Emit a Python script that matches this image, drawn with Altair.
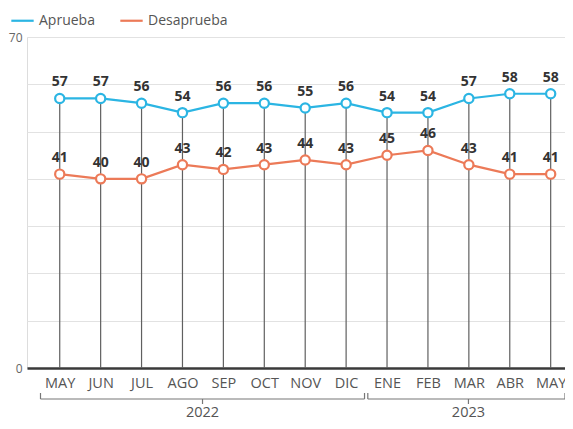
import altair as alt
import pandas as pd

months = ["MAY", "JUN", "JUL", "AGO", "SEP", "OCT", "NOV", "DIC",
          "ENE", "FEB", "MAR", "ABR", "MAY"]
years = ["2022"] * 8 + ["2023"] * 5
aprueba = [57, 57, 56, 54, 56, 56, 55, 56, 54, 54, 57, 58, 58]
desaprueba = [41, 40, 40, 43, 42, 43, 44, 43, 45, 46, 43, 41, 41]
series = ["Aprueba", "Desaprueba"]
colors = ["#2bb5e3", "#ec7a58"]

FONT = "Open Sans"
W, H = 538, 331

idx = list(range(len(months)))
rows = []
for i in idx:
    rows.append({"i": i, "mes": months[i], "serie": "Aprueba", "v": aprueba[i]})
    rows.append({"i": i, "mes": months[i], "serie": "Desaprueba", "v": desaprueba[i]})
df = pd.DataFrame(rows)
stems = pd.DataFrame({"i": idx, "top": aprueba, "base": [0] * len(idx)})

yr = []
for y in sorted(set(years)):
    ii = [k for k, yy in enumerate(years) if yy == y]
    s, e = min(ii) - 0.47, max(ii) + 0.45
    yr.append({"year": y, "s": s, "e": min(e, 12.35), "m": (s + e) / 2})
ydf = pd.DataFrame(yr)

label_expr = "[" + ",".join(f"'{m}'" for m in months) + "][datum.value]"

xscale = alt.Scale(domain=[-0.8, 12.35], nice=False, zero=False)
x = alt.X("i:Q", scale=xscale,
          axis=alt.Axis(values=idx, labelExpr=label_expr, title=None, grid=False,
                        ticks=False, domainColor="#3a3a3a", domainWidth=2.5,
                        labelColor="#555555", labelFont=FONT, labelFontSize=14.5,
                        labelPadding=8, labelFlush=False))
yscale = alt.Scale(domain=[0, 70], nice=False)

stem = alt.Chart(stems).mark_rule(color="#606060", strokeWidth=1.2).encode(
    x=x,
    y=alt.Y("top:Q", scale=yscale,
            axis=alt.Axis(values=list(range(0, 71, 10)),
                          labelExpr="datum.value==0||datum.value==70 ? datum.label : ''",
                          title=None, grid=True, gridColor="#e2e2e2", gridWidth=1,
                          ticks=False, domain=False, labelColor="#666666",
                          labelFont=FONT, labelFontSize=12, labelPadding=5)),
    y2="base:Q",
)

color = alt.Color("serie:N", scale=alt.Scale(domain=series, range=colors),
                  legend=alt.Legend(title=None, orient="none", legendX=-17, legendY=-29,
                                    direction="horizontal", symbolType="stroke",
                                    symbolSize=500, symbolStrokeWidth=2.2,
                                    labelFont=FONT, labelFontSize=14, labelColor="#555555",
                                    columnPadding=20, labelOffset=4))

line = alt.Chart(df).mark_line(strokeWidth=2.2).encode(
    x="i:Q", y=alt.Y("v:Q", scale=yscale), color=color, detail="serie:N")
pts = alt.Chart(df).mark_point(filled=False, fill="white", fillOpacity=1, size=85,
                               strokeWidth=2.2, opacity=1).encode(
    x="i:Q", y="v:Q",
    stroke=alt.Stroke("serie:N", scale=alt.Scale(domain=series, range=colors), legend=None))
txt = alt.Chart(df).mark_text(dy=-16, font=FONT, fontSize=14, fontWeight="bold",
                              color="#333333").encode(x="i:Q", y="v:Q", text="v:Q")

hbr = alt.Chart(ydf).mark_rule(color="#777777", strokeWidth=1.2).encode(
    x="s:Q", x2="e:Q", y=alt.value(H + 31))
lend = alt.Chart(ydf).mark_rule(color="#777777", strokeWidth=1.2).encode(
    x="s:Q", y=alt.value(H + 25), y2=alt.value(H + 31))
rend = alt.Chart(ydf).mark_rule(color="#777777", strokeWidth=1.2).encode(
    x="e:Q", y=alt.value(H + 25), y2=alt.value(H + 31))
mid = alt.Chart(ydf).mark_rule(color="#777777", strokeWidth=1.2).encode(
    x="m:Q", y=alt.value(H + 31), y2=alt.value(H + 36))
ytxt = alt.Chart(ydf).mark_text(font=FONT, fontSize=14.5, color="#555555", baseline="middle").encode(
    x="m:Q", y=alt.value(H + 45), text="year:N")

chart = alt.layer(stem, line, pts, txt, hbr, lend, rend, mid, ytxt).properties(
    width=W, height=H,
    autosize=alt.AutoSizeParams(type="none"),
    padding={"left": 19, "top": 29, "right": 0, "bottom": 53},
).configure_view(stroke=None).configure(background="white")

chart.save("out.html", embed_options={"renderer": "svg", "actions": False})
